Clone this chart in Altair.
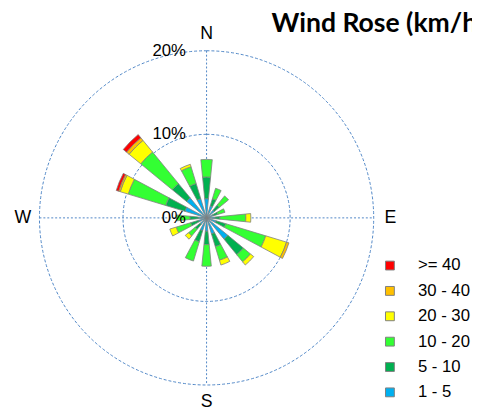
import altair as alt
import pandas as pd

# ---- data ----
directions = ["N", "NNE", "NE", "ENE", "E", "ESE", "SE", "SSE",
              "S", "SSW", "SW", "WSW", "W", "WNW", "NW", "NNW"]
dir_angles = [0, 22.5, 45, 67.5, 90, 112.5, 135, 157.5,
              180, 202.5, 225, 247.5, 270, 292.5, 315, 337.5]

speed_bins = ["1 - 5", "5 - 10", "10 - 20", "20 - 30", "30 - 40", ">= 40"]
bin_colors = ["#00B0F0", "#00B050", "#33FF33", "#FFFF00", "#FFC000", "#FF0000"]

# percent of time per direction, per speed bin (km/h)
v_1_5   = [2.3, 1.5, 1.2, 0.8, 1.0, 1.2, 3.3, 2.0, 1.6, 1.6, 1.0, 1.0, 1.0, 2.7, 3.1, 2.4]
v_5_10  = [2.6, 0.9, 0.8, 0.6, 0.6, 1.2, 2.4, 1.6, 1.6, 1.4, 0.8, 1.0, 1.0, 2.4, 2.2, 1.9]
v_10_20 = [2.1, 1.3, 1.4, 0.9, 3.1, 5.0, 1.1, 1.7, 2.6, 2.4, 1.0, 1.8, 1.6, 4.7, 4.9, 2.1]
v_20_30 = [0.0, 0.0, 0.0, 0.0, 0.6, 2.6, 0.5, 0.6, 0.0, 0.0, 0.5, 0.8, 0.0, 1.0, 1.8, 0.3]
v_30_40 = [0.0, 0.0, 0.0, 0.0, 0.0, 0.3, 0.0, 0.0, 0.0, 0.0, 0.0, 0.0, 0.0, 0.2, 0.4, 0.0]
v_40    = [0.0, 0.0, 0.0, 0.0, 0.0, 0.0, 0.0, 0.0, 0.0, 0.0, 0.0, 0.0, 0.0, 0.3, 0.5, 0.0]

ring_values = [0, 10, 20]
ring_labels = ["0%", "10%", "20%"]
compass_labels = ["N", "E", "S", "W"]
compass_angles = [0, 90, 180, 270]
title_text = "Wind Rose (km/h)"

# ---- build table ----
series = [v_1_5, v_5_10, v_10_20, v_20_30, v_30_40, v_40]
half = 5.625
rows = []
for i, d in enumerate(directions):
    r0 = 0.0
    for b, vals in zip(speed_bins, series):
        v = vals[i]
        if v > 0:
            rows.append({"dir": d, "bin": b, "t0": dir_angles[i] - half,
                         "t1": dir_angles[i] + half, "r0": r0, "r1": r0 + v})
            r0 += v
df = pd.DataFrame(rows)

CX, CY = 202, 210
theta_scale = alt.Scale(domain=[0, 360], range=[0, 6.283185307179586])
r_scale = alt.Scale(type="linear", domain=[0, 20], range=[0, 170])
grid_color = "#4F86C6"

legend_order = list(reversed(speed_bins))
legend_colors = list(reversed(bin_colors))

wedges = alt.Chart(df).mark_arc(stroke="#808080", strokeWidth=0.8).encode(
    x=alt.value(CX), y=alt.value(CY),
    theta=alt.Theta("t0:Q", scale=theta_scale, stack=False),
    theta2="t1:Q",
    radius=alt.Radius("r1:Q", scale=r_scale, stack=False),
    radius2="r0:Q",
    color=alt.Color("bin:N",
                    scale=alt.Scale(domain=legend_order, range=legend_colors),
                    legend=alt.Legend(title=None, orient="none", legendX=380, legendY=250,
                                      symbolType="square", symbolSize=81,
                                      symbolStrokeColor="#808080", symbolStrokeWidth=1,
                                      labelFont="Liberation Sans", labelFontSize=17,
                                      labelColor="#000000", labelOffset=20,
                                      rowPadding=7.8, padding=0)),
)

rings_df = pd.DataFrame({"val": ring_values[1:], "a0": [0, 0], "a1": [360, 360]})
rings = alt.Chart(rings_df).mark_arc(filled=False, stroke=grid_color, strokeWidth=1,
                                     strokeDash=[3, 2]).encode(
    x=alt.value(CX), y=alt.value(CY),
    theta=alt.Theta("a0:Q", scale=theta_scale, stack=False),
    theta2="a1:Q",
    radius=alt.Radius("val:Q", scale=r_scale, stack=False),
)

one = pd.DataFrame({"k": [0]})
hline = alt.Chart(one).mark_rule(color=grid_color, strokeWidth=1, strokeDash=[2, 2]).encode(
    x=alt.value(CX - 170), x2=alt.value(CX + 170), y=alt.value(CY))
vline = alt.Chart(one).mark_rule(color=grid_color, strokeWidth=1, strokeDash=[2, 2]).encode(
    y=alt.value(CY - 170), y2=alt.value(CY + 170), x=alt.value(CX))

ring_lab_df = pd.DataFrame({"val": ring_values, "lab": ring_labels, "th": [0, 0, 0]})
ring_text = alt.Chart(ring_lab_df).mark_text(
    align="right", baseline="middle", dx=-21, font="Liberation Sans", fontSize=17,
    color="#000000").encode(
    x=alt.value(CX), y=alt.value(CY),
    theta=alt.Theta("th:Q", scale=theta_scale, stack=False),
    radius=alt.Radius("val:Q", scale=r_scale, stack=False),
    text="lab:N")

comp_df = pd.DataFrame({"lab": compass_labels, "th": compass_angles, "rr": [22] * 4})
comp_text = alt.Chart(comp_df).mark_text(
    align="center", baseline="middle", font="Liberation Sans", fontSize=18,
    color="#000000").encode(
    x=alt.value(CX), y=alt.value(CY),
    theta=alt.Theta("th:Q", scale=theta_scale, stack=False),
    radius=alt.Radius("rr:Q", scale=r_scale, stack=False),
    text="lab:N")

title = alt.Chart(pd.DataFrame({"t": [title_text]})).mark_text(
    align="left", baseline="alphabetic", font="Lato", fontWeight="bold",
    fontSize=27, color="#000000").encode(
    x=alt.value(268), y=alt.value(21), text="t:N")

chart = alt.layer(rings, hline, vline, wedges, ring_text, comp_text, title).properties(
    width=472, height=406, padding=0,
    autosize=alt.AutoSizeParams(type="none"),
).configure_view(stroke=None)

chart.save("out.html", embed_options={"renderer": "svg", "actions": False})
